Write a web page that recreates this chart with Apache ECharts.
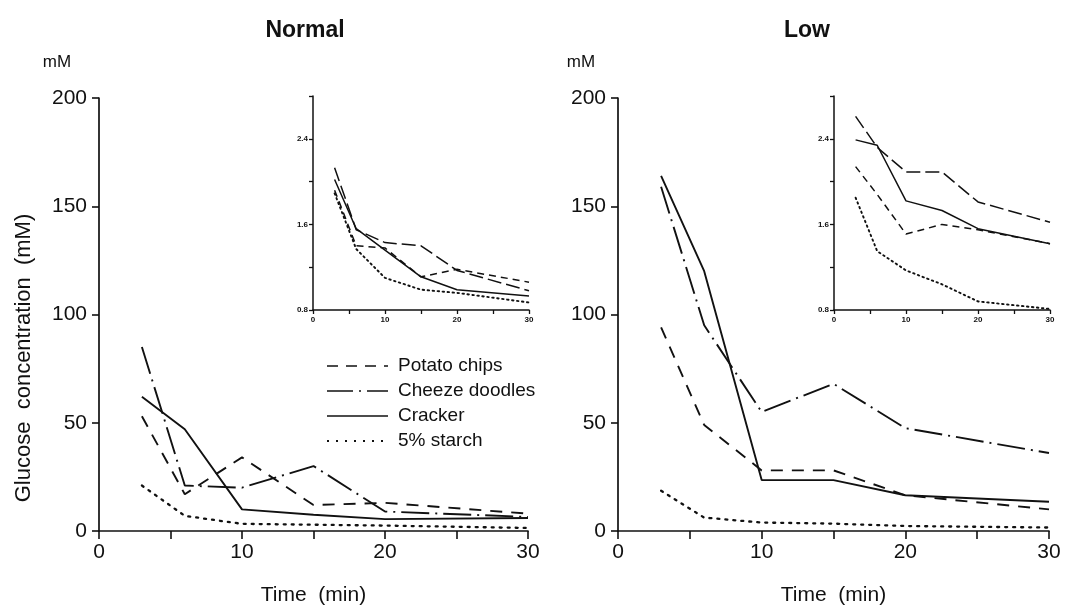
<!DOCTYPE html>
<html>
<head>
<meta charset="utf-8">
<script src="https://cdn.jsdelivr.net/npm/echarts@6/dist/echarts.min.js"></script>
<style>
html,body{margin:0;padding:0;background:#fff;}
#chart{width:1065px;height:613px;}
</style>
</head>
<body>
<div id="chart"></div>
<script>
// ---- data ----
const times = [3, 6, 10, 15, 20, 30];
const seriesNames = ['Potato chips', 'Cheeze doodles', 'Cracker', '5% starch'];
const mainYTicks = [0, 50, 100, 150, 200];
const insetYLabels = [0.8, 1.6, 2.4];

const normalPotato  = [53, 17, 34, 12, 13, 8];
const normalDoodles = [85, 21, 20, 30, 9, 6.5];
const normalCracker = [62, 47, 10, 7.5, 5.5, 6];
const normalStarch  = [21, 7, 3.3, 2.9, 2.5, 1.4];

const lowPotato  = [94, 49, 28, 28, 16.5, 10];
const lowDoodles = [159, 95, 55, 68, 47.5, 36];
const lowCracker = [164, 120, 23.5, 23.5, 16.5, 13.5];
const lowStarch  = [18.6, 6.2, 3.9, 3.4, 2.3, 1.6];

const normalInsetPotato  = [1.92, 1.40, 1.38, 1.11, 1.18, 1.06];
const normalInsetDoodles = [2.13, 1.55, 1.43, 1.40, 1.17, 0.98];
const normalInsetCracker = [2.02, 1.56, 1.36, 1.11, 0.99, 0.93];
const normalInsetStarch  = [1.89, 1.37, 1.10, 0.99, 0.96, 0.87];

const lowInsetPotato  = [2.14, 1.88, 1.51, 1.60, 1.55, 1.42];
const lowInsetDoodles = [2.61, 2.32, 2.09, 2.09, 1.81, 1.62];
const lowInsetCracker = [2.39, 2.34, 1.82, 1.73, 1.56, 1.42];
const lowInsetStarch  = [1.85, 1.35, 1.17, 1.04, 0.88, 0.81];

// ---- styles ----
const FONT = 'Liberation Sans';
const INK = '#111';
const mainDash = [[12, 9], [28, 6, 2, 6], 'solid', [2, 6]];
const insetDash = [[7, 5], [14, 5], 'solid', [1.5, 3.5]];

function pairs(vals){ return times.map((t,i)=>[t, vals[i]]); }

function mkSeries(sets, gridIdx, dashes, width){
  return sets.map((vals, k) => ({
    name: seriesNames[k],
    type: 'line',
    xAxisIndex: gridIdx,
    yAxisIndex: gridIdx,
    data: pairs(vals),
    symbol: 'none',
    silent: true,
    z: 3 + gridIdx,
    lineStyle: {color: INK, width: k === 3 ? width + 0.4 : width, type: dashes[k], cap: k===3 ? 'round' : 'butt'}
  }));
}

function mainX(gi){
  return {
    type: 'value', gridIndex: gi, min: 0, max: 30, interval: 5,
    axisLine: {show: true, onZero: false, lineStyle: {color: INK, width: 1.7}},
    axisTick: {show: true, length: 8, lineStyle: {color: INK, width: 1.6}},
    axisLabel: {color: INK, fontFamily: FONT, fontSize: 21, margin: 11,
      formatter: v => (v % 10 === 0 ? String(v) : '')},
    splitLine: {show: false},
    name: 'Time  (min)', nameLocation: 'middle', nameGap: 54,
    nameTextStyle: {color: INK, fontFamily: FONT, fontSize: 21}
  };
}
function mainY(gi){
  return {
    type: 'value', gridIndex: gi, min: 0, max: 200, interval: 50,
    axisLine: {show: true, lineStyle: {color: INK, width: 1.7}},
    axisTick: {show: true, length: 7, lineStyle: {color: INK, width: 1.6}},
    axisLabel: {color: INK, fontFamily: FONT, fontSize: 21, margin: 12,
      formatter: v => (mainYTicks.indexOf(v) >= 0 ? String(v) : '')},
    splitLine: {show: false}
  };
}
function insetX(gi){
  return {
    type: 'value', gridIndex: gi, min: 0, max: 30, interval: 5,
    axisLine: {show: true, onZero: false, lineStyle: {color: INK, width: 1.5}},
    axisTick: {show: true, length: 4, lineStyle: {color: INK, width: 1.3}},
    axisLabel: {color: INK, fontFamily: FONT, fontSize: 8, fontWeight: 'bold', margin: 6,
      formatter: v => (v % 10 === 0 ? String(v) : '')},
    splitLine: {show: false}
  };
}
function insetY(gi){
  return {
    type: 'value', gridIndex: gi, min: 0.8, max: 2.8, interval: 0.4,
    axisLine: {show: true, lineStyle: {color: INK, width: 1.5}},
    axisTick: {show: true, length: 4, lineStyle: {color: INK, width: 1.3}},
    axisLabel: {color: INK, fontFamily: FONT, fontSize: 8, fontWeight: 'bold', margin: 5,
      formatter: v => (insetYLabels.some(l => Math.abs(l - v) < 1e-6) ? v.toFixed(1) : '')},
    splitLine: {show: false}
  };
}

// legend + free labels (graphic)
const legendX0 = 327, legendX1 = 388, legendTextX = 398;
const legendRows = [366, 391, 416, 441];
const legendDash = [[11, 8], [26, 6, 2, 6], null, [2, 7]];
const extraGraphics = [];
seriesNames.forEach((nm, k) => {
  const y = legendRows[k];
  extraGraphics.push({
    type: 'line', silent: true,
    shape: {x1: legendX0, y1: y, x2: legendX1, y2: y},
    style: {stroke: INK, lineWidth: k === 3 ? 2 : 1.7, lineDash: legendDash[k]}
  });
  extraGraphics.push({
    type: 'text', silent: true, x: legendTextX, y: y,
    style: {text: nm, fill: INK, font: '19px "' + FONT + '"', textVerticalAlign: 'middle', textAlign: 'left'}
  });
});
extraGraphics.push({type:'text', silent:true, x: 57, y: 62,
  style:{text:'mM', fill:INK, font:'17px "'+FONT+'"', textAlign:'center', textVerticalAlign:'middle'}});
extraGraphics.push({type:'text', silent:true, x: 581, y: 62,
  style:{text:'mM', fill:INK, font:'17px "'+FONT+'"', textAlign:'center', textVerticalAlign:'middle'}});
extraGraphics.push({type:'text', silent:true, x: 24, y: 358, rotation: Math.PI/2,
  style:{text:'Glucose  concentration  (mM)', fill:INK, font:'22px "'+FONT+'"', textAlign:'center', textVerticalAlign:'middle'}});

const option = {
  backgroundColor: '#fff',
  animation: false,
  title: [
    {text: 'Normal', left: 300, top: 14, textAlign: 'center',
      textStyle: {fontFamily: FONT, fontSize: 23, fontWeight: 'bold', color: INK}},
    {text: 'Low', left: 802, top: 14, textAlign: 'center',
      textStyle: {fontFamily: FONT, fontSize: 23, fontWeight: 'bold', color: INK}}
  ],
  grid: [
    {left: 99, top: 98, width: 429, height: 433},
    {left: 618, top: 98, width: 431, height: 433},
    {left: 313, top: 96, width: 216, height: 214},
    {left: 834, top: 96, width: 216, height: 214}
  ],
  xAxis: [mainX(0), mainX(1), insetX(2), insetX(3)],
  yAxis: [mainY(0), mainY(1), insetY(2), insetY(3)],
  series: [].concat(
    mkSeries([normalPotato, normalDoodles, normalCracker, normalStarch], 0, mainDash, 1.9),
    mkSeries([lowPotato, lowDoodles, lowCracker, lowStarch], 1, mainDash, 1.9),
    mkSeries([normalInsetPotato, normalInsetDoodles, normalInsetCracker, normalInsetStarch], 2, insetDash, 1.5),
    mkSeries([lowInsetPotato, lowInsetDoodles, lowInsetCracker, lowInsetStarch], 3, insetDash, 1.5)
  ),
  graphic: extraGraphics
};

const chart = echarts.init(document.getElementById('chart'), null, {renderer: 'canvas'});
chart.setOption(option);
</script>
</body>
</html>
